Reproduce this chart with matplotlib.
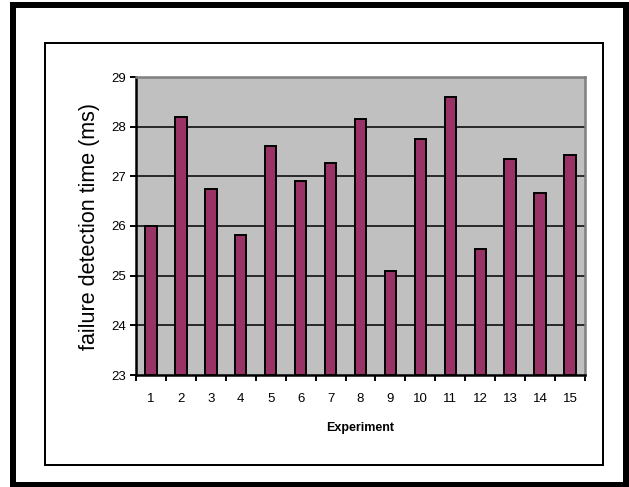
import matplotlib
matplotlib.use("Agg")
import matplotlib.pyplot as plt
from matplotlib.patches import Rectangle
import numpy as np

experiments = list(range(1, 16))
detect_time = [26.0, 28.2, 26.75, 25.82, 27.62, 26.91, 27.27, 28.15,
               25.09, 27.75, 28.6, 25.53, 27.35, 26.67, 27.43]
y_ticks = [23, 24, 25, 26, 27, 28, 29]

plt.rcParams["font.family"] = ["Liberation Sans", "DejaVu Sans"]

W, H = 629, 487
fig = plt.figure(figsize=(W / 100, H / 100), dpi=100)

# outer and inner frames (pixel coords -> figure fraction)
def px_rect(x0, y0, x1, y1, lw):
    fig.patches.append(Rectangle((x0 / W, 1 - y1 / H), (x1 - x0) / W, (y1 - y0) / H,
                                 transform=fig.transFigure, fill=False,
                                 edgecolor="black", linewidth=lw * 0.72, zorder=0))

px_rect(13, 4.5, 626, 484.5, 6)
px_rect(45, 43, 602.5, 465, 2)

ax = fig.add_axes([136 / W, 1 - 375 / H, (585 - 136) / W, (375 - 77) / H])
ax.set_facecolor("#C0C0C0")

x = np.arange(len(experiments))
ax.bar(x, np.array(detect_time) - 23, bottom=23, width=0.38,
       color="#993366", edgecolor="black", linewidth=1.4, zorder=3)

ax.set_xlim(-0.5, len(experiments) - 0.5)
ax.set_ylim(23, 29)
ax.set_yticks(y_ticks)
ax.set_yticklabels([str(v) for v in y_ticks], fontsize=9.5)

# gridlines
for v in y_ticks[1:-1]:
    ax.axhline(v, color="black", linewidth=1.1, zorder=1)

# x ticks on category boundaries, labels centered
ax.set_xticks(np.arange(-0.5, len(experiments), 1.0))
ax.set_xticklabels([])
ax.set_xticks(x, minor=True)
ax.set_xticklabels([str(e) for e in experiments], minor=True, fontsize=9.5)
ax.tick_params(axis="x", which="minor", length=0, pad=13)
ax.tick_params(axis="x", which="major", length=4, width=1.4, direction="out")
ax.tick_params(axis="y", length=4, width=1.4, direction="out", pad=3)

for s in ["left", "bottom"]:
    ax.spines[s].set_color("black")
    ax.spines[s].set_linewidth(1.8)
for s in ["top", "right"]:
    ax.spines[s].set_color("#808080")
    ax.spines[s].set_linewidth(1.8)

ax.set_ylabel("failure detection time (ms)", fontsize=15.5, labelpad=8)
ax.set_xlabel("Experiment", fontsize=9, fontweight="bold", labelpad=12)

fig.savefig("out.png", dpi=100)
